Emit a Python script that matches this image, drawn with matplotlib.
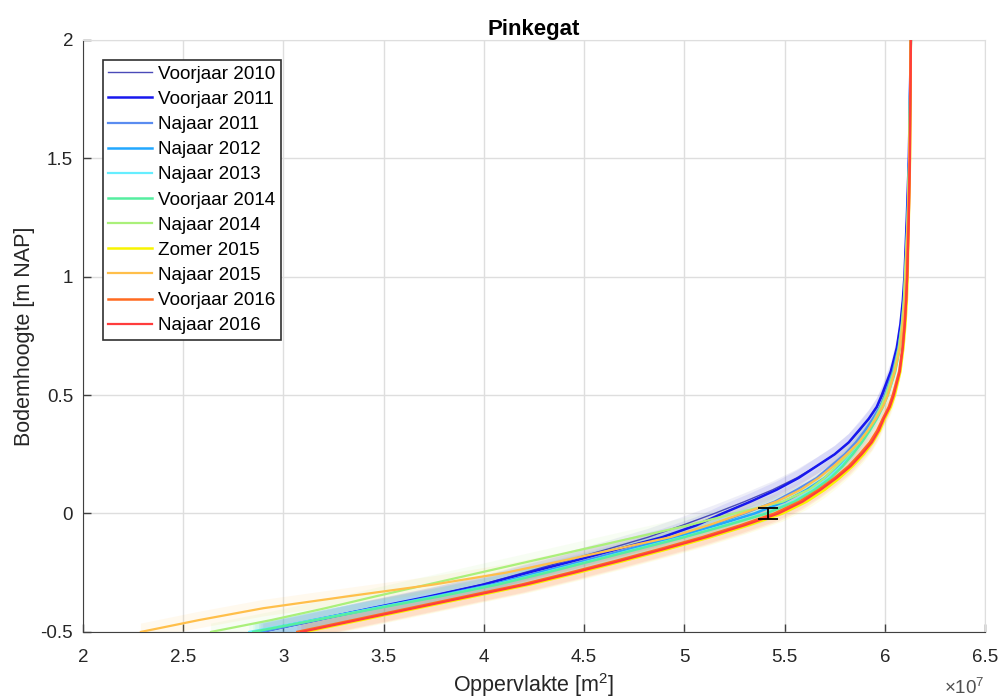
import matplotlib
matplotlib.use("Agg")
import matplotlib.pyplot as plt
from matplotlib.ticker import FuncFormatter
import numpy as np

plt.rcParams['font.family'] = ['Liberation Sans', 'DejaVu Sans']
plt.rcParams['mathtext.fontset'] = 'custom'
plt.rcParams['mathtext.rm'] = 'Liberation Sans'
plt.rcParams['mathtext.it'] = 'Liberation Sans'

# bed level [m NAP] and wet area per survey [x 1e7 m2]
heights = [-0.5, -0.45, -0.4, -0.35, -0.3, -0.25, -0.2, -0.15, -0.1, -0.05, 0.0, 0.05, 0.1, 0.15,
           0.2, 0.25, 0.3, 0.35, 0.4, 0.45, 0.5, 0.6, 0.7, 0.8, 0.9, 1.0, 1.25, 1.5, 2.0]

voorjaar_2010 = [2.90, 3.18, 3.45, 3.73, 3.99, 4.20, 4.41, 4.62, 4.82, 4.99, 5.15, 5.30, 5.44, 5.56,
                 5.66, 5.75, 5.82, 5.875, 5.92, 5.96, 5.99, 6.035, 6.062, 6.08, 6.09, 6.10, 6.11, 6.12, 6.13]
voorjaar_2011 = [2.88, 3.16, 3.44, 3.73, 4.00, 4.22, 4.45, 4.67, 4.89, 5.06, 5.19, 5.33, 5.46, 5.57,
                 5.66, 5.75, 5.82, 5.87, 5.92, 5.96, 5.985, 6.03, 6.06, 6.078, 6.09, 6.098, 6.11, 6.12, 6.13]
najaar_2011 = [2.89, 3.17, 3.46, 3.76, 4.04, 4.27, 4.50, 4.72, 4.94, 5.13, 5.30, 5.45, 5.56, 5.66,
               5.73, 5.80, 5.855, 5.90, 5.94, 5.975, 6.00, 6.04, 6.068, 6.085, 6.095, 6.102, 6.113, 6.121, 6.13]
najaar_2012 = [2.86, 3.15, 3.45, 3.76, 4.05, 4.28, 4.52, 4.74, 4.96, 5.16, 5.35, 5.50, 5.61, 5.70,
               5.765, 5.825, 5.87, 5.91, 5.95, 5.98, 6.005, 6.045, 6.07, 6.087, 6.097, 6.103, 6.114, 6.122, 6.13]
najaar_2013 = [2.83, 3.15, 3.46, 3.77, 4.06, 4.30, 4.53, 4.76, 4.99, 5.20, 5.40, 5.54, 5.64, 5.72,
               5.78, 5.835, 5.88, 5.92, 5.955, 5.985, 6.01, 6.05, 6.073, 6.088, 6.098, 6.104, 6.115, 6.122, 6.13]
voorjaar_2014 = [2.85, 3.16, 3.47, 3.78, 4.07, 4.31, 4.54, 4.77, 5.00, 5.21, 5.41, 5.55, 5.65, 5.73,
                 5.79, 5.84, 5.885, 5.925, 5.96, 5.99, 6.015, 6.052, 6.075, 6.09, 6.10, 6.106, 6.116, 6.123, 6.13]
najaar_2014 = [2.64, 2.94, 3.21, 3.46, 3.72, 3.98, 4.24, 4.50, 4.76, 5.02, 5.25, 5.49, 5.62, 5.70,
               5.76, 5.82, 5.87, 5.915, 5.95, 5.98, 6.005, 6.045, 6.07, 6.085, 6.095, 6.10, 6.115, 6.122, 6.13]
zomer_2015 = [3.11, 3.39, 3.67, 3.95, 4.23, 4.47, 4.70, 4.92, 5.13, 5.32, 5.49, 5.61, 5.70, 5.775,
              5.84, 5.895, 5.94, 5.975, 6.00, 6.03, 6.05, 6.078, 6.093, 6.103, 6.11, 6.114, 6.12, 6.126, 6.13]
najaar_2015 = [2.29, 2.58, 2.90, 3.32, 3.75, 4.11, 4.39, 4.66, 4.93, 5.12, 5.29, 5.46, 5.58, 5.67,
               5.745, 5.81, 5.87, 5.915, 5.955, 5.99, 6.015, 6.05, 6.075, 6.09, 6.10, 6.105, 6.115, 6.122, 6.13]
voorjaar_2016 = [3.07, 3.35, 3.63, 3.91, 4.19, 4.43, 4.66, 4.88, 5.09, 5.28, 5.45, 5.575, 5.67, 5.75,
                 5.82, 5.875, 5.925, 5.962, 5.99, 6.02, 6.04, 6.072, 6.088, 6.099, 6.106, 6.111, 6.119, 6.125, 6.13]
najaar_2016 = [3.09, 3.37, 3.65, 3.93, 4.21, 4.45, 4.68, 4.90, 5.11, 5.30, 5.47, 5.59, 5.68, 5.76,
               5.83, 5.885, 5.935, 5.97, 5.995, 6.025, 6.045, 6.075, 6.09, 6.10, 6.107, 6.112, 6.12, 6.125, 6.13]

labels = ['Voorjaar 2010', 'Voorjaar 2011', 'Najaar 2011', 'Najaar 2012', 'Najaar 2013',
          'Voorjaar 2014', 'Najaar 2014', 'Zomer 2015', 'Najaar 2015', 'Voorjaar 2016', 'Najaar 2016']
series = [voorjaar_2010, voorjaar_2011, najaar_2011, najaar_2012, najaar_2013,
          voorjaar_2014, najaar_2014, zomer_2015, najaar_2015, voorjaar_2016, najaar_2016]
colors = ['#4a4ab8', '#1818ee', '#5a8cf0', '#22a8ff', '#66eeff',
          '#55eea0', '#aaf07a', '#f8f400', '#ffbf4a', '#ff6a20', '#ff3c3c']
widths = [1.0, 1.8, 1.6, 1.8, 1.6, 1.8, 1.6, 1.8, 1.6, 1.8, 1.6]

band = 0.035  # vertical uncertainty [m]
err_x = 5.42
err_y = 0.0
err_dy = 0.025

scale = 1e7
h = np.array(heights)

fig, ax = plt.subplots(figsize=(9.98, 6.99), dpi=100)
fig.subplots_adjust(left=0.083, right=0.987, top=0.943, bottom=0.096)

# uncertainty bands
for vals, c in zip(series, colors):
    x = np.array(vals) * scale
    ax.fill(np.concatenate([x, x[::-1]]), np.concatenate([h + band, (h - band)[::-1]]),
            color=c, alpha=0.09, lw=0, zorder=1)

for vals, lab, c, w in zip(series, labels, colors, widths):
    ax.plot(np.array(vals) * scale, h, color=c, lw=w, label=lab, zorder=3)

ax.errorbar(err_x * scale, err_y, yerr=err_dy, color='black', lw=1.3, capsize=7.5,
            capthick=1.3, zorder=4)

ax.set_xlim(2e7, 6.5e7)
ax.set_ylim(-0.5, 2)
ax.set_xticks(np.arange(2, 6.51, 0.5) * scale)
ax.xaxis.set_major_formatter(FuncFormatter(lambda v, p: '%g' % (v / scale)))
ax.set_yticks([-0.5, 0, 0.5, 1, 1.5, 2])
ax.set_yticklabels(['-0.5', '0', '0.5', '1', '1.5', '2'])

ax.grid(True, color='#dedede', lw=1)
ax.set_axisbelow(True)
ax.tick_params(direction='in', length=6, width=1, labelsize=13.5, colors='#404040',
               labelcolor='#262626', top=False, right=False)
ax.tick_params(axis='x', pad=12)
ax.tick_params(axis='y', pad=7)
for s in ['left', 'bottom']:
    ax.spines[s].set_color('#404040')
for s in ['top', 'right']:
    ax.spines[s].set_color('#dedede')

ax.set_title('Pinkegat', fontsize=16, fontweight='bold', pad=3)
ax.set_xlabel('Oppervlakte [m$^{2}$]', fontsize=15.5, color='#262626', labelpad=4)
ax.set_ylabel('Bodemhoogte [m NAP]', fontsize=15.5, color='#262626', labelpad=4)
ax.text(1.0, -0.095, r'$\times$10$^{7}$', transform=ax.transAxes, ha='right', va='center',
        fontsize=13.5, color='#505050')

leg = ax.legend(loc='upper left', bbox_to_anchor=(0.022, 0.966), borderaxespad=0,
                fontsize=13.6, labelspacing=0.42, handlelength=2.3, handletextpad=0.33,
                borderpad=0.3, fancybox=False, framealpha=1)
leg.get_frame().set_edgecolor('#303030')
leg.get_frame().set_linewidth(1.2)

fig.savefig('out.png', dpi=100)
